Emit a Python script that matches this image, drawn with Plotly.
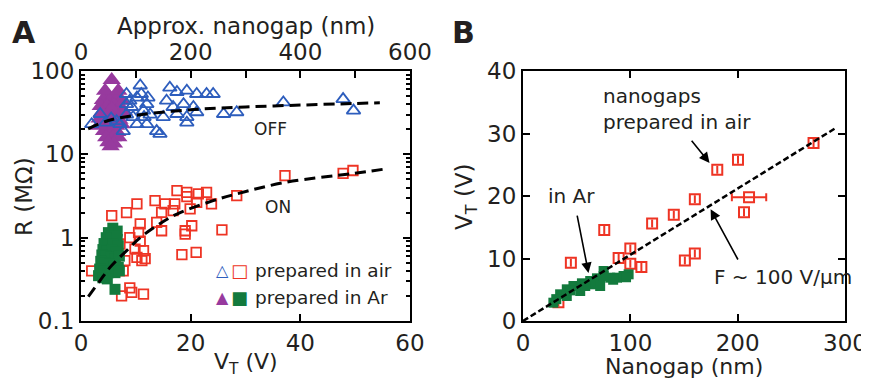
import plotly.graph_objects as go

FONT = "DejaVu Sans"
TXT = "#231f20"
BLUE = "#2d5dbd"
RED = "#ee3424"
PURPLE = "#973a9e"
GREEN = "#137a3d"

# ---------------- Panel A (V_T in V, R in MOhm) ----------------
# OFF state, prepared in air (open triangles)
a_off_air_vt = [1.95, 10.8, 8.3, 10.2, 12.0, 9.2, 7.7, 10.2, 12.0, 13.8, 14.4, 16.2, 17.5, 19.3,
                21.1, 22.9, 24.1, 15.6, 16.8, 18.7, 20.5, 15.0, 17.5, 19.3, 19.3, 21.1, 26.0,
                28.4, 36.9, 47.8, 49.7, 3.5, 6.5, 7.1, 8.3, 9.5, 11.5, 11.4, 12.6, 8.3, 8.9,
                11.0, 12.2, 5.5, 4.5]
a_off_air_r = [23, 67, 53, 48, 40, 37, 19, 23, 23, 19, 17.6, 63, 56, 58,
               53, 53, 53, 44, 37, 40, 37, 28, 30.5, 28, 24, 32, 30.5,
               32, 42, 46, 33.5, 30.5, 25, 23, 30, 28, 28, 33.5, 30, 40, 44,
               53, 48, 27, 24]

# OFF state, prepared in Ar (filled triangles)
a_off_ar_vt = [5.6, 4.8, 6.4, 4.0, 5.2, 6.4, 7.4, 3.6, 4.8, 6.0, 7.0, 3.8, 5.0, 6.2, 7.3, 3.4,
               4.6, 5.8, 7.0, 4.0, 5.2, 6.4, 7.4, 4.2, 5.4, 6.6, 4.6, 5.8, 6.8, 5.0, 6.0, 5.4,
               3.2, 7.8, 5.6, 5.6, 4.4, 6.8]
a_off_ar_r = [78, 52, 52, 45, 44, 45, 44, 38, 38, 39, 37, 32, 31, 32, 30, 27,
              27, 26, 26, 23, 22, 22, 23, 19, 19, 18.5, 16, 16, 16, 14, 13.5, 12.5,
              22, 33, 35, 28, 58, 58]

# ON state, prepared in air (open squares)
a_on_air_vt = [37.2, 47.8, 49.6, 28.4, 22.9, 21.4, 19.3, 17.5, 21.1, 23.8, 13.5, 15.3, 17.1,
               16.8, 19.9, 14.7, 10.2, 8.3, 5.6, 13.8, 14.7, 10.8, 10.5, 20.2, 19.0, 19.0,
               25.7, 18.4, 21.0, 8.9, 10.8, 9.85, 11.4, 10.2, 11.7, 11.1, 8.0, 7.7, 1.95,
               7.4, 8.9, 9.25, 11.4, 7.1, 19.3]
a_on_air_r = [5.55, 5.9, 6.4, 3.19, 3.5, 3.35, 3.5, 3.66, 2.65, 2.54, 2.78, 2.54, 2.54,
              2.11, 2.21, 2.01, 2.54, 2.0, 1.84, 1.53, 1.21, 1.46, 1.16, 1.39, 1.21, 1.1,
              1.24, 0.625, 0.667, 1.0, 0.91, 0.73, 0.70, 0.58, 0.56, 0.53, 0.53, 0.40, 0.40,
              0.20, 0.25, 0.22, 0.21, 0.84, 3.1]

# ON state, prepared in Ar (filled squares)
a_on_ar_vt = [5.8, 6.6, 5.0, 6.2, 4.6, 5.5, 6.6, 4.2, 5.0, 5.9, 6.8, 4.0, 4.8, 5.6, 6.4, 3.8,
              4.6, 5.4, 6.2, 7.0, 3.6, 4.4, 5.2, 6.0, 6.8, 3.4, 4.2, 5.0, 6.2, 7.0, 3.2, 4.0,
              4.8, 6.2]
a_on_ar_r = [1.3, 1.2, 1.15, 1.05, 1.0, 0.95, 0.95, 0.85, 0.82, 0.85, 0.8, 0.72, 0.7, 0.72,
             0.68, 0.62, 0.6, 0.58, 0.56, 0.6, 0.52, 0.5, 0.48, 0.46, 0.44, 0.42, 0.4, 0.38,
             0.38, 0.4, 0.35, 0.33, 0.32, 0.24]

# Dashed guide curves
a_fit_off_vt = [1.3, 5.0, 10.2, 20.5, 30.0, 40.0, 49.6, 54.5]
a_fit_off_r = [20.2, 25.5, 29.5, 34.5, 37.0, 39.0, 40.7, 41.5]
a_fit_on_vt = [1.33, 3.47, 5.29, 8.33, 10.8, 13.8, 17.5, 24.1, 28.4, 37.2, 49.7, 55.0]
a_fit_on_r = [0.196, 0.305, 0.44, 0.70, 1.0, 1.39, 1.92, 2.78, 3.35, 4.6, 5.9, 6.6]

a_x_ticks = [0, 20, 40, 60]
a_top_ticks = [0, 100, 200, 300, 400, 500, 600]
a_top_labels = ["0", "", "200", "", "400", "", "600"]
a_y_ticks = [0.1, 1, 10, 100]
a_y_labels = ["0.1", "1", "10", "100"]
a_y_minor = [0.2, 0.3, 0.4, 0.5, 0.6, 0.7, 0.8, 0.9, 2, 3, 4, 5, 6, 7, 8, 9,
             20, 30, 40, 50, 60, 70, 80, 90]

# ---------------- Panel B (nanogap in nm, V_T in V) ----------------
b_air_nm = [44.6, 75.7, 89.1, 100, 100, 110.3, 120.3, 140.5, 150.8, 160.1, 160.1, 181,
            200.3, 210.6, 205.9, 270.7, 33]
b_air_vt = [9.33, 14.56, 10.1, 11.6, 9.17, 8.64, 15.6, 17.0, 9.7, 10.8, 19.5, 24.2,
            25.8, 19.8, 17.4, 28.5, 3.0]
b_air_nm_err = [None, None, None, None, None, None, None, None, None, None, None, None,
                None, 16, None, None, None]

b_ar_nm = [28.3, 34.6, 40.8, 47.0, 54.9, 62.6, 68.9, 75.1, 75.1, 81.3, 87.6, 93.7, 98.4,
           40.8, 53.3, 65.7, 71.9, 31.0, 44.0, 58.0, 84.0, 96.0]
b_ar_vt = [2.93, 4.27, 5.07, 5.6, 6.03, 6.4, 6.83, 8.0, 7.2, 6.93, 6.93, 7.2, 7.47,
           4.0, 4.8, 5.87, 5.6, 3.5, 4.9, 5.6, 6.6, 7.0]

b_fit_nm = [0, 291.6]
b_fit_vt = [0, 30.9]

b_x_ticks = [0, 100, 200, 300]
b_y_ticks = [0, 10, 20, 30, 40]

# The page body keeps the browser's default 8 px margin, so the figure is drawn
# 8 px smaller and all layout positions below are given in window pixels.
OFF = 8
W, H = 869 - OFF, 379 - OFF
def px(x):
    return (x - OFF) / W
def py(y):
    return 1 - (y - OFF) / H

A_DOM_X = [px(81), px(410)]
B_DOM_X = [px(523), px(845)]
DOM_Y = [py(321), py(71)]

fig = go.Figure()

# Panel A traces
fig.add_trace(go.Scatter(x=a_off_ar_vt, y=a_off_ar_r, mode="markers", xaxis="x", yaxis="y",
                         marker=dict(symbol="triangle-up", size=16, color=PURPLE, line=dict(width=0))))
fig.add_trace(go.Scatter(x=a_off_air_vt, y=a_off_air_r, mode="markers", xaxis="x", yaxis="y",
                         marker=dict(symbol="triangle-up-open", size=12, color=BLUE,
                                     line=dict(width=1.8, color=BLUE))))
fig.add_trace(go.Scatter(x=a_on_air_vt, y=a_on_air_r, mode="markers", xaxis="x", yaxis="y",
                         marker=dict(symbol="square-open", size=9.5, color=RED,
                                     line=dict(width=1.8, color=RED))))
fig.add_trace(go.Scatter(x=a_on_ar_vt, y=a_on_ar_r, mode="markers", xaxis="x", yaxis="y",
                         marker=dict(symbol="square", size=11, color=GREEN, line=dict(width=0))))
fig.add_trace(go.Scatter(x=a_fit_off_vt, y=a_fit_off_r, mode="lines", xaxis="x", yaxis="y",
                         line=dict(color="black", width=3, dash="11px,6px", shape="spline")))
fig.add_trace(go.Scatter(x=a_fit_on_vt, y=a_fit_on_r, mode="lines", xaxis="x", yaxis="y",
                         line=dict(color="black", width=3, dash="11px,6px", shape="spline")))
# carrier for the top (approx. nanogap) axis, draws nothing
fig.add_trace(go.Scatter(x=a_top_ticks, y=[None] * len(a_top_ticks), mode="markers",
                         xaxis="x2", yaxis="y", hoverinfo="skip", marker=dict(opacity=0)))

# Panel B traces
fig.add_trace(go.Scatter(x=b_air_nm, y=b_air_vt, mode="markers", xaxis="x3", yaxis="y3",
                         marker=dict(symbol="square-open", size=10, color=RED,
                                     line=dict(width=2, color=RED)),
                         error_x=dict(type="data", array=b_air_nm_err, visible=True,
                                      color=RED, thickness=2, width=4)))
fig.add_trace(go.Scatter(x=b_ar_nm, y=b_ar_vt, mode="markers", xaxis="x3", yaxis="y3",
                         marker=dict(symbol="square", size=10, color=GREEN, line=dict(width=0))))
fig.add_trace(go.Scatter(x=b_fit_nm, y=b_fit_vt, mode="lines", xaxis="x3", yaxis="y3",
                         line=dict(color="black", width=2.5, dash="6px,3px")))

axis_common = dict(showline=True, linewidth=2, linecolor="black", ticks="inside", ticklen=7,
                   tickwidth=2, tickcolor="black", showgrid=False, zeroline=False,
                   automargin=False,
                   tickfont=dict(family=FONT, size=23, color=TXT))

fig.update_layout(
    template="none",
    width=W, height=H, margin=dict(l=0, r=0, t=0, b=0, autoexpand=False),
    paper_bgcolor="white", plot_bgcolor="white", showlegend=False,
    font=dict(family=FONT, size=20, color=TXT),
    xaxis=dict(domain=A_DOM_X, range=[0, 60], anchor="y", tickvals=a_x_ticks,
               ticklabelstandoff=0, **axis_common),
    xaxis2=dict(domain=A_DOM_X, range=[0, 600], anchor="y", overlaying="x", side="top",
                tickvals=a_top_ticks, ticktext=a_top_labels, **axis_common),
    yaxis=dict(domain=DOM_Y, type="log", range=[-1, 2], anchor="x", tickvals=a_y_ticks,
               ticktext=a_y_labels, mirror="ticks",
               minor=dict(tickvals=a_y_minor, ticks="inside", ticklen=4, tickwidth=1.5,
                          tickcolor="black"),
               **axis_common),
    xaxis3=dict(domain=B_DOM_X, range=[0, 300], anchor="y3", tickvals=b_x_ticks,
                mirror="ticks", ticklabelstandoff=0, **axis_common),
    yaxis3=dict(domain=DOM_Y, range=[0, 40], anchor="x3", tickvals=b_y_ticks,
                mirror="ticks", **axis_common),
)

ann = []
def text(x, y, s, size=23, xanchor="center", yanchor="middle", bold=False, angle=0, align="center", color=TXT):
    ann.append(dict(x=px(x), y=py(y), xref="paper", yref="paper", text=("<b>%s</b>" % s) if bold else s,
                    showarrow=False, xanchor=xanchor, yanchor=yanchor, textangle=angle, align=align,
                    font=dict(family=FONT, size=size, color=color)))

text(24, 33, "A", size=30, bold=True)
text(463, 33, "B", size=30, bold=True)
text(246, 26, "Approx. nanogap (nm)")
text(246, 363, "V<sub>T</sub> (V)", size=22)
text(684, 366, "Nanogap (nm)", size=22)
text(24, 197, "R (MΩ)", angle=-90)
text(466, 196, "V<sub>T</sub> (V)", angle=-90)
text(270, 129, "OFF", size=17)
text(278, 207, "ON", size=17)

# legend of panel A
text(222, 270, "△", size=16, color=BLUE)
text(239, 270, "□", size=18, color=RED)
text(222, 297, "▲", size=16, color=PURPLE)
text(239, 297, "■", size=18, color=GREEN)
text(253, 270, "prepared in air", size=18.5, xanchor="left")
text(253, 297, "prepared in Ar", size=18.5, xanchor="left")

# Panel B labels
text(601, 109, "nanogaps<br>prepared in air", size=20, xanchor="left", align="left")
text(571, 196, "in Ar", size=20)
text(712, 277, "F ~ 100 V/µm", size=20, xanchor="left")

def arrow(hx, hy, tx, ty):
    ann.append(dict(x=hx, y=hy, xref="x3", yref="y3", ax=tx, ay=ty, axref="x3", ayref="y3",
                    showarrow=True, arrowhead=2, arrowsize=1.3, arrowwidth=1.6, arrowcolor="black",
                    text=""))

arrow(173.8, 25.3, 156, 29.1)
arrow(61, 7.7, 50.2, 17.1)
arrow(174.8, 17.9, 201, 9.6)

fig.update_layout(annotations=ann)
fig.write_html("out.html")
